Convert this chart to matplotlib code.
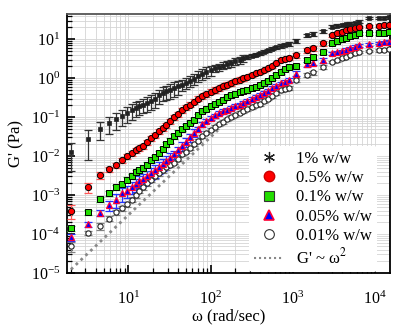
import matplotlib
matplotlib.use('Agg')
import matplotlib.pyplot as plt
import numpy as np
from matplotlib.lines import Line2D
from matplotlib.ticker import LogLocator, NullFormatter

plt.rcParams['font.family'] = ['Liberation Serif', 'DejaVu Serif']
plt.rcParams['mathtext.fontset'] = 'stix'

# frequencies (rad/s): rheometer sweep, then the sparse high-frequency points
w_sweep = [2.0, 3.2, 4.5, 5.8, 7.1, 8.4, 9.7, 11, 12.3, 13.6, 15, 17, 19, 21, 23.5, 26,
           29, 32, 36, 40, 45, 50, 56, 63, 70, 79, 88, 100, 112, 125, 140, 158, 177,
           200, 224, 250, 280, 316, 355, 400, 450, 500, 560, 630, 710, 800, 890]
w_high = [1090, 1500, 1750, 2300, 3000, 3400, 3900, 4400, 5000, 5600, 6300,
          8500, 11200, 12800, 14800]

# G' (Pa)
g_1 = [0.0126, 0.027, 0.051, 0.069, 0.087, 0.106, 0.125, 0.15, 0.17, 0.19, 0.21, 0.23,
       0.26, 0.29, 0.36, 0.42, 0.46, 0.5, 0.56, 0.62, 0.68, 0.76, 0.85, 0.97, 1.15, 1.3,
       1.45, 1.6, 1.8, 1.95, 2.1, 2.3, 2.45, 2.7, 2.9, 3.2, 3.5, 3.8, 4.0, 4.3, 4.8, 5.2,
       5.7, 6.2, 6.7, 7.2, 7.6,
       9.0, 12.6, 13.5, 16, 21, 22, 23, 24, 25, 26, 28, 34, 35, 35.5, 36]
g_05 = [0.0004, 0.0016, 0.0032, 0.0046, 0.0059, 0.0079, 0.010, 0.012, 0.014, 0.016, 0.018,
        0.023, 0.029, 0.035, 0.043, 0.052, 0.063, 0.08, 0.1, 0.12, 0.15, 0.18, 0.21, 0.25,
        0.3, 0.34, 0.39, 0.45, 0.5, 0.55, 0.61, 0.68, 0.75, 0.83, 0.91, 1.0, 1.1, 1.22,
        1.33, 1.45, 1.6, 1.8, 2.0, 2.4, 2.9, 3.1, 3.3,
        3.9, 5.2, 5.8, 7.8, 12.7, 14, 15.5, 17, 18.5, 19.5, 20.6, 21.5, 22, 22.5, 23]
g_01 = [0.00014, 0.00037, 0.00078, 0.0011, 0.0016, 0.0019, 0.0025, 0.0031, 0.0038, 0.0043,
        0.005, 0.006, 0.0079, 0.0095, 0.012, 0.015, 0.02, 0.025, 0.032, 0.04, 0.05, 0.06,
        0.072, 0.085, 0.11, 0.14, 0.16, 0.19, 0.22, 0.25, 0.28, 0.32, 0.37, 0.4, 0.43,
        0.47, 0.5, 0.55, 0.6, 0.66, 0.75, 0.85, 1.0, 1.2, 1.45, 1.7, 1.9,
        2.0, 2.9, 3.5, 4.7, 7.8, 8.8, 9.8, 11, 12, 13, 14, 14, 14.3, 14.5, 15]
g_005 = [0.000083, 0.00018, 0.00035, 0.00055, 0.00077, 0.0011, 0.0013, 0.0016, 0.0019,
         0.0023, 0.0026, 0.0031, 0.0037, 0.0043, 0.0053, 0.0062, 0.0075, 0.009, 0.011,
         0.014, 0.018, 0.023, 0.03, 0.04, 0.05, 0.065, 0.08, 0.095, 0.11, 0.125, 0.14,
         0.155, 0.17, 0.19, 0.21, 0.23, 0.26, 0.29, 0.33, 0.37, 0.42, 0.48, 0.55, 0.64,
         0.73, 0.8, 0.88,
         1.3, 2.3, 2.5, 2.9, 4.3, 4.6, 5.0, 5.4, 5.9, 6.4, 7.0, 7.4, 8.0, 8.3, 8.6]
g_001 = [0.000049, 0.000107, 0.00016, 0.00025, 0.00036, 0.00046, 0.00059, 0.00076, 0.001,
         0.0013, 0.0016, 0.002, 0.0025, 0.003, 0.0036, 0.0043, 0.0051, 0.006, 0.0068,
         0.0085, 0.011, 0.013, 0.016, 0.02, 0.025, 0.032, 0.04, 0.048, 0.056, 0.065,
         0.075, 0.088, 0.1, 0.115, 0.13, 0.145, 0.16, 0.18, 0.2, 0.22, 0.26, 0.3, 0.35,
         0.42, 0.49, 0.53, 0.56,
         0.88, 1.2, 1.4, 1.9, 2.6, 2.9, 3.2, 3.5, 3.9, 4.3, 4.7, 5.0, 5.2, 5.4, 5.6]

# relative error (fraction of G')
e_1 = [0.68, 0.7, 0.5, 0.45, 0.45, 0.45, 0.45, 0.45, 0.4, 0.4, 0.4, 0.4, 0.4, 0.4, 0.4,
       0.4, 0.4, 0.4, 0.4, 0.4, 0.3, 0.3, 0.3, 0.3, 0.3, 0.3, 0.3, 0.3, 0.2, 0.2, 0.2,
       0.2, 0.2, 0.2, 0.2, 0.2, 0.1, 0.1, 0.1, 0.1, 0.1, 0.1, 0.1, 0.1, 0.1, 0.1, 0.1,
       0.1, 0.1, 0.1, 0.1, 0.08, 0.08, 0.08, 0.08, 0.08, 0.08, 0.08, 0.06, 0.06, 0.06, 0.06]
e_05 = [0.4, 0.3, 0.2] + [0.15] * 33 + [0.1] * 11 + [0.15] * 4 + [0.08] * 11
e_01 = [0.15] * 20 + [0.1] * 27 + [0.12] * 4 + [0.08] * 11
e_005 = [0.2, 0.15, 0.15, 0.3, 0.4, 0.4] + [0.35] * 12 + [0.25] * 6 + [0.12] * 23 \
    + [0.15] * 4 + [0.08] * 11
e_001 = [0.3, 0.1, 0.2] + [0.15] * 15 + [0.1] * 29 + [0.12] * 4 + [0.08] * 11

# G' ~ w^2 reference
w_ref = [2.0, 122]
g_ref = [1.24e-5, 0.046]

w = np.array(w_sweep + w_high)

fig = plt.figure(figsize=(4.2, 3.27), dpi=100)
ax = fig.add_axes([0.160, 0.165, 0.769, 0.792])
ax.set_xscale('log')
ax.set_yscale('log')
ax.set_xlim(1.8, 15200)
ax.set_ylim(1e-5, 44)

ax.grid(True, which='both', color='#d4d4d4', linewidth=0.6)
ax.set_axisbelow(True)

ax.plot(w_ref, g_ref, color='#888888', linestyle=(0, (1, 1.4)), linewidth=2, zorder=2)

series = [
    (g_001, e_001, dict(marker='o', ms=3.8, mfc='white', mec='#222222', mew=0.8), '#808080'),
    (g_005, e_005, dict(marker='^', ms=4, mfc='#0000ff', mec='#ff0033', mew=0.9), '#2233ff'),
    (g_01, e_01, dict(marker='s', ms=4.3, mfc='#22dd00', mec='black', mew=0.7), '#33ee33'),
    (g_05, e_05, dict(marker='o', ms=4.5, mfc='#ff0000', mec='black', mew=0.7), '#ff5555'),
    (g_1, e_1, dict(marker='s', ms=2.4, mfc='#222222', mec='#222222', mew=0.5), '#333333'),
]
for g, e, mk, ecol in series:
    g = np.array(g)
    ax.errorbar(w, g, yerr=g * np.array(e), fmt='none', ecolor=ecol,
                elinewidth=0.9, capsize=2.8, capthick=0.9, zorder=3)
    ax.plot(w, g, linestyle='none', zorder=4, **mk)

ax.set_xlabel('ω (rad/sec)', fontsize=12, labelpad=0)
ax.set_ylabel("G' (Pa)", fontsize=12, labelpad=4)

ax.xaxis.set_major_locator(LogLocator(base=10, numticks=10))
ax.xaxis.set_minor_locator(LogLocator(base=10, subs=np.arange(2, 10), numticks=50))
ax.yaxis.set_major_locator(LogLocator(base=10, numticks=10))
ax.yaxis.set_minor_locator(LogLocator(base=10, subs=np.arange(2, 10), numticks=50))
ax.xaxis.set_minor_formatter(NullFormatter())
ax.yaxis.set_minor_formatter(NullFormatter())
ax.tick_params(axis='both', which='major', direction='in', length=6, width=1.2,
               labelsize=11.5, top=False, right=False)
ax.tick_params(axis='both', which='minor', direction='in', length=3.5, width=0.9,
               top=False, right=False)
ax.tick_params(axis='x', which='major', pad=13)
ax.tick_params(axis='y', which='major', pad=5)

for s in ['left', 'bottom', 'right']:
    ax.spines[s].set_linewidth(1.3)
ax.spines['top'].set_color('#555555')
ax.spines['top'].set_linewidth(1.3)

handles = [
    Line2D([], [], linestyle='none', marker=(6, 2, 0), ms=8, color='#222222', mew=0.9),
    Line2D([], [], linestyle='none', marker='o', ms=7.5, mfc='#ff0000', mec='#cc0000'),
    Line2D([], [], linestyle='none', marker='s', ms=7, mfc='#22dd00', mec='#333333', mew=0.8),
    Line2D([], [], linestyle='none', marker='^', ms=7.5, mfc='#0000ff', mec='#ff0033', mew=1.2),
    Line2D([], [], linestyle='none', marker='o', ms=7, mfc='white', mec='#333333', mew=0.8),
    Line2D([], [], color='#888888', linestyle=(0, (1, 1.4)), linewidth=1.5),
]
labels = ['1% w/w', '0.5% w/w', '0.1% w/w', '0.05% w/w', '0.01% w/w', "G' ~ ω$^2$"]
leg = ax.legend(handles, labels, loc='lower right', bbox_to_anchor=(0.985, -0.03),
                fontsize=12, frameon=True, facecolor='white', edgecolor='none',
                framealpha=1, borderpad=0.3, labelspacing=0.2, handlelength=1.7,
                handletextpad=0.8)

fig.savefig('out.png', dpi=100)
